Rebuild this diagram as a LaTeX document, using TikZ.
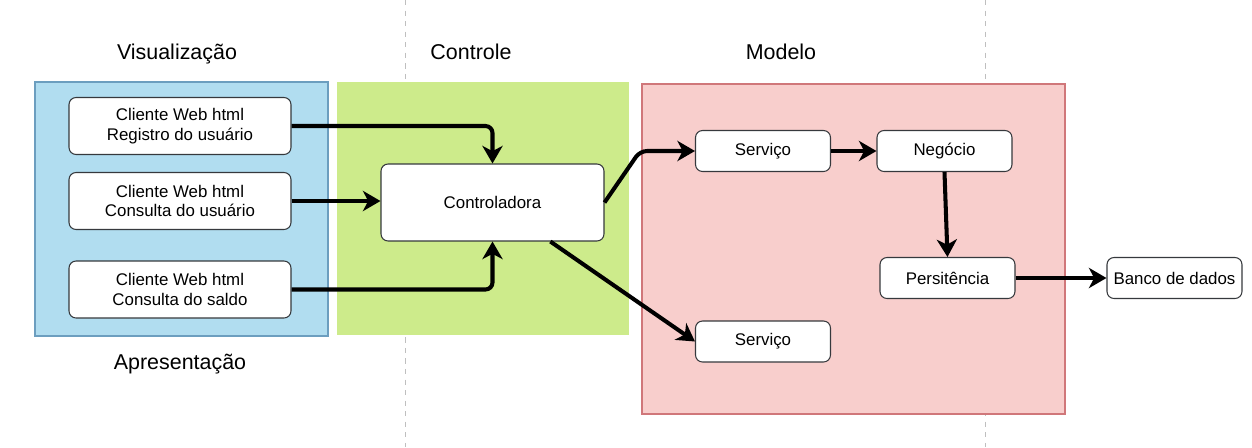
\documentclass[tikz,border=0pt]{standalone}
\usepackage{fontspec}
\setmainfont{Liberation Sans}
\usetikzlibrary{arrows.meta}

\definecolor{viewfill}{HTML}{B1DDF0}
\definecolor{viewline}{HTML}{6C9EBF}
\definecolor{ctrlfill}{HTML}{CDEB8B}
\definecolor{modelfill}{HTML}{F8CECC}
\definecolor{modelline}{HTML}{D0777A}
\definecolor{boxline}{HTML}{36393D}

\begin{document}
\begin{tikzpicture}[x=0.02cm, y=-0.02cm,
    layerbox/.style={draw=boxline, fill=white, rounded corners=4pt, line width=0.6pt,
        align=center, inner sep=0pt, font=\fontsize{9.6}{11.3}\selectfont},
    clientbox/.style={layerbox, minimum width=4.44cm, minimum height=1.14cm},
    smallbox/.style={layerbox, minimum width=2.7cm, minimum height=0.82cm},
    title/.style={anchor=base, font=\fontsize{12.2}{14}\selectfont},
    flow/.style={line width=2.3pt, -{Stealth[length=10pt, width=11.5pt, inset=3pt]}, rounded corners=4pt}]
\useasboundingbox (0,0) rectangle (1252,447);

% Set the column separators
\draw[gray!50, dashed, line width=0.5pt] (405,0) -- (405,447);
\draw[gray!50, dashed, line width=0.5pt] (985,0) -- (985,447);

% Draw the three layers
\draw[draw=viewline, fill=viewfill, line width=0.6pt] (35,82) rectangle (328,336);
\fill[ctrlfill] (337,82) rectangle (629,335);
\draw[draw=modelline, fill=modelfill, line width=0.6pt] (642,84) rectangle (1065,414);

% Layer titles
\node[title] (tview) at (177,59) {Visualização};
\node[title] (tctrl) at (471,59) {Controle};
\node[title] (tmodel) at (781,59) {Modelo};
\node[title] (tapres) at (180,369) {Apresentação};

% Clients
\node[clientbox] (client1) at (180,126) {Cliente Web html\\Registro do usuário};
\node[clientbox] (client2) at (180,201) {Cliente Web html\\Consulta do usuário};
\node[clientbox] (client3) at (180,289.5) {Cliente Web html\\Consulta do saldo};

% Controller
\node[layerbox, minimum width=4.46cm, minimum height=1.54cm] (ctrl) at (492.5,202.5) {Controladora};

% Model
\node[smallbox] (service1) at (763,151) {Serviço};
\node[smallbox] (business) at (944.5,151) {Negócio};
\node[smallbox] (persist) at (947.5,278) {Persitência};
\node[smallbox] (service2) at (763,341.5) {Serviço};
\node[smallbox] (database) at (1174.5,278) {Banco de dados};

% Connectors
\draw[flow] (client1.east) -| (ctrl.north);
\draw[flow] (client2.east) -- (client2.east -| ctrl.west);
\draw[flow] (client3.east) -| (ctrl.south);
\draw[flow] (ctrl.east) -- (640,151) -- (service1.west);
\draw[flow] (ctrl.-34.7) -- (service2.west);
\draw[flow] (service1.east) -- (business.west);
\draw[flow] (business.south) -- (persist.north);
\draw[flow] (persist.east) -- (database.west);
\end{tikzpicture}
\end{document}
